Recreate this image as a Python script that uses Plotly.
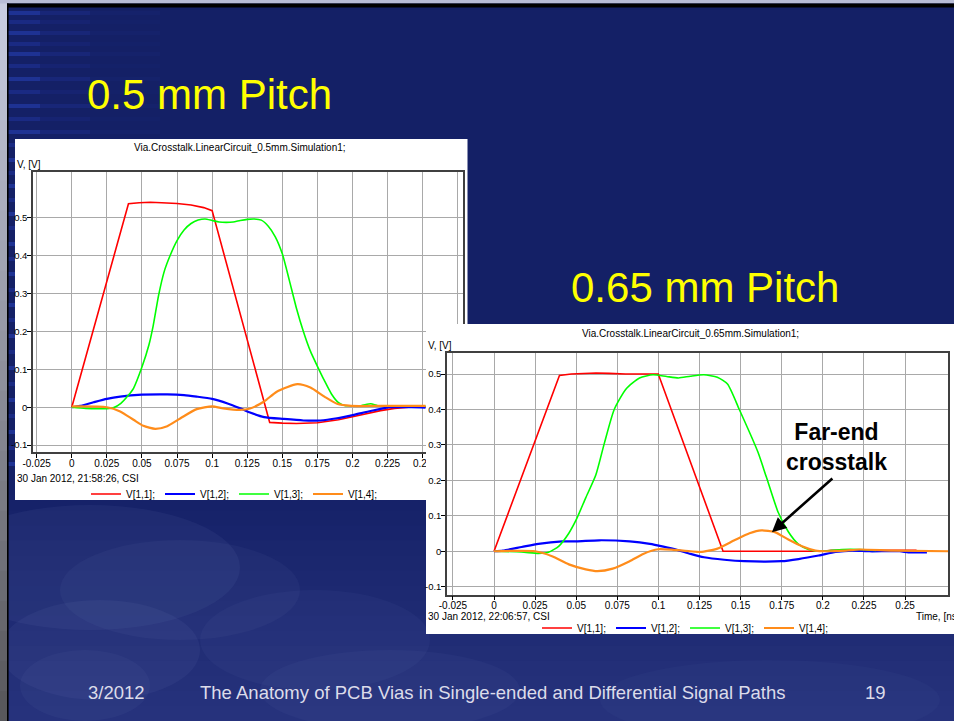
import plotly.graph_objects as go

W, H = 954, 721

# ---------------- 0.5 mm pitch simulation ----------------
P1_V11_T = [0, 0.0404, 0.048, 0.056, 0.064, 0.075, 0.085, 0.094, 0.100, 0.141, 0.150,
            0.160, 0.175, 0.190, 0.200, 0.210, 0.220, 0.230, 0.240, 0.252]
P1_V11 = [0, 0.537, 0.540, 0.541, 0.540, 0.538, 0.534, 0.527, 0.519, -0.040, -0.042,
          -0.043, -0.041, -0.033, -0.025, -0.016, -0.009, -0.003, 0.000, 0.001]

P1_V12_T = [0, 0.006, 0.0155, 0.025, 0.0345, 0.050, 0.068, 0.080, 0.089, 0.100, 0.111,
            0.120, 0.127, 0.137, 0.151, 0.165, 0.177, 0.189, 0.201, 0.213, 0.227, 0.242, 0.252]
P1_V12 = [0, 0.0035, 0.013, 0.022, 0.028, 0.033, 0.034, 0.032, 0.028, 0.022, 0.010,
          -0.003, -0.014, -0.026, -0.031, -0.035, -0.035, -0.029, -0.020, -0.010, 0.000, 0.000, -0.001]

P1_V13_T = [0, 0.010, 0.020, 0.025, 0.030, 0.035, 0.040, 0.044, 0.050, 0.055, 0.058,
            0.062, 0.066, 0.070, 0.075, 0.080, 0.085, 0.090, 0.095, 0.100, 0.105, 0.110,
            0.115, 0.120, 0.125, 0.130, 0.135, 0.140, 0.145, 0.150, 0.155, 0.160, 0.165,
            0.170, 0.175, 0.180, 0.185, 0.190, 0.195, 0.200, 0.206, 0.213, 0.218, 0.230,
            0.240, 0.252]
P1_V13 = [0, -0.003, -0.004, -0.004, -0.001, 0.010, 0.030, 0.050, 0.106, 0.165, 0.215,
          0.298, 0.360, 0.400, 0.440, 0.468, 0.485, 0.494, 0.497, 0.493, 0.489, 0.488,
          0.489, 0.493, 0.496, 0.497, 0.494, 0.478, 0.450, 0.405, 0.335, 0.262, 0.200,
          0.148, 0.108, 0.070, 0.035, 0.012, 0.004, 0.004, 0.004, 0.009, 0.004, 0.004,
          0.004, 0.003]

P1_V14_T = [0, 0.025, 0.0345, 0.044, 0.051, 0.0595, 0.068, 0.0775, 0.089, 0.100, 0.108,
            0.120, 0.127, 0.137, 0.146, 0.1607, 0.170, 0.180, 0.189, 0.199, 0.218, 0.252]
P1_V14 = [0.002, 0.000, -0.011, -0.033, -0.049, -0.057, -0.050, -0.029, -0.005, 0.002, -0.003,
          -0.007, -0.0035, 0.015, 0.041, 0.061, 0.052, 0.028, 0.009, 0.0035, 0.0035, 0.0035]

# ---------------- 0.65 mm pitch simulation ----------------
P2_V11_T = [0, 0.0398, 0.047, 0.062, 0.070, 0.080, 0.0999, 0.1393, 0.200, 0.205, 0.257]
P2_V11 = [0, 0.496, 0.500, 0.503, 0.502, 0.500, 0.500, 0.000, 0.000, 0.003, 0.003]

P2_V12_T = [0, 0.0055, 0.0168, 0.027, 0.0414, 0.050, 0.064, 0.0825, 0.0948, 0.103, 0.1112,
            0.1195, 0.1277, 0.140, 0.1523, 0.1749, 0.1852, 0.1975, 0.2078, 0.218, 0.2283,
            0.2468, 0.252, 0.2633]
P2_V12 = [0, 0.002, 0.012, 0.021, 0.028, 0.028, 0.031, 0.028, 0.021, 0.013, 0.004,
          -0.0075, -0.017, -0.024, -0.028, -0.028, -0.022, -0.012, -0.002, 0.002, 0.000,
          0.000, -0.003, -0.003]

P2_V13_T = [0, 0.0167, 0.027, 0.0331, 0.0393, 0.0455, 0.050, 0.0557, 0.0619, 0.067, 0.0731,
            0.0803, 0.0885, 0.0967, 0.105, 0.1122, 0.1194, 0.1276, 0.1358, 0.142, 0.1492,
            0.1605, 0.1656, 0.1728, 0.179, 0.1851, 0.1913, 0.1974, 0.2118, 0.2221, 0.2324]
P2_V13 = [0, -0.002, -0.006, -0.003, 0.014, 0.051, 0.089, 0.150, 0.215, 0.303, 0.400,
          0.458, 0.489, 0.498, 0.493, 0.489, 0.494, 0.498, 0.491, 0.472, 0.400,
          0.280, 0.210, 0.110, 0.055, 0.020, 0.005, 0.000, 0.005, 0.005, 0.002]

P2_V14_T = [0, 0.025, 0.0353, 0.0455, 0.0558, 0.0629, 0.0722, 0.0825, 0.0907, 0.0999, 0.1092,
            0.1195, 0.1256, 0.1359, 0.1462, 0.1554, 0.1626, 0.1708, 0.179, 0.1873, 0.1955,
            0.2017, 0.214, 0.2222, 0.2428, 0.2763]
P2_V14 = [0, 0.000, -0.014, -0.037, -0.051, -0.056, -0.049, -0.028, -0.0075, 0.0056, 0.004,
          0.000, -0.002, 0.0075, 0.031, 0.051, 0.059, 0.054, 0.033, 0.014, 0.002,
          0.000, 0.002, 0.005, 0.002, 0.000]

SERIES_NAMES = ["V[1,1];", "V[1,2];", "V[1,3];", "V[1,4];"]
SERIES_COLORS = ["#ff0000", "#0000ff", "#00ff00", "#ff8c1a"]
SERIES_WIDTHS = [1.6, 2.2, 1.6, 2.2]
SERIES_SHAPES = ["linear", "spline", "spline", "spline"]

X_TICKS = [-0.025, 0, 0.025, 0.05, 0.075, 0.1, 0.125, 0.15, 0.175, 0.2, 0.225, 0.25, 0.275]
X_TICK_LABELS = ["-0.025", "0", "0.025", "0.05", "0.075", "0.1", "0.125", "0.15",
                 "0.175", "0.2", "0.225", "0.25", "0.275"]
Y_TICKS = [-0.1, 0, 0.1, 0.2, 0.3, 0.4, 0.5]
Y_TICK_LABELS = ["-0.1", "0", "0.1", "0.2", "0.3", "0.4", "0.5"]

SLIDE_TITLE_1 = "0.5 mm Pitch"
SLIDE_TITLE_2 = "0.65 mm Pitch"
PANEL_TITLE_1 = "Via.Crosstalk.LinearCircuit_0.5mm.Simulation1;"
PANEL_TITLE_2 = "Via.Crosstalk.LinearCircuit_0.65mm.Simulation1;"
STAMP_1 = "30 Jan 2012, 21:58:26, CSI"
STAMP_2 = "30 Jan 2012, 22:06:57, CSI"
FOOTER = ["3/2012", "The Anatomy of PCB Vias in Single-ended and Differential Signal Paths", "19"]

NAVY = "#142066"
SIM_FONT = "Liberation Sans Narrow, Arial Narrow, Liberation Sans, Arial, sans-serif"
SLIDE_FONT = "Liberation Sans, Arial, sans-serif"
SIM_SIZE = 10


def px(x):
    return x / W


def py(y):
    return 1 - y / H


shapes = []


def rect(x0, y0, x1, y1, color, opacity=1.0):
    shapes.append(dict(type="rect", xref="paper", yref="paper", layer="below",
                       x0=px(x0), x1=px(x1), y0=py(y1), y1=py(y0),
                       fillcolor=color, opacity=opacity, line=dict(width=0)))


def blob(x0, y0, x1, y1, color, opacity):
    shapes.append(dict(type="circle", xref="paper", yref="paper", layer="below",
                       x0=px(x0), x1=px(x1), y0=py(y1), y1=py(y0),
                       fillcolor=color, opacity=opacity, line=dict(width=0)))


def mix(c0, c1, f):
    return "rgb(%d,%d,%d)" % tuple(round(a + (b - a) * f) for a, b in zip(c0, c1))


# lighter, cloudy lower part of the slide
n = 16
for i in range(n):
    y0 = 480 + i * (241 / n)
    rect(0, y0, W, y0 + 241 / n + 1, mix((20, 32, 102), (38, 50, 124), (i + 1) / n))
for (x0, y0, x1, y1, op) in [(-60, 505, 240, 630, 0.07), (60, 540, 300, 640, 0.06),
                             (0, 600, 200, 700, 0.07), (200, 590, 430, 690, 0.05),
                             (260, 650, 520, 730, 0.05), (600, 660, 940, 740, 0.04),
                             (20, 650, 150, 721, 0.06)]:
    blob(x0, y0, x1, y1, "#8a9ad0", op)

# horizontal light streaks along the left edge
streak_y = [11, 20, 31, 42, 52, 64, 77, 90, 104, 117, 130, 143, 158, 171, 184, 198,
            212, 226, 242, 257, 272, 288, 303, 318, 334, 350, 366, 382, 398, 414, 430, 446, 462]
for k, sy in enumerate(streak_y):
    strength = 0.3 if k % 2 == 0 else 0.18
    rect(8, sy, 40, sy + 4, "#2f4cd0", strength)
    rect(8, sy, 90, sy + 4, "#2f4cd0", strength * 0.45)
    rect(8, sy, 160, sy + 4, "#2f4cd0", strength * 0.18)

# slide frame: grey bar on the left and along the top, black inner edge
n = 24
for i in range(n):
    y0 = i * H / n
    rect(0, y0, 7, y0 + H / n + 1, mix((200, 204, 224), (88, 88, 92), i / (n - 1)))
rect(0, 0, W, 3.5, "#b8bcd6")
rect(7, 3.5, W, 7.5, "#000000")
rect(7, 3.5, 8.6, H, "#000000")

# white window of the 0.5 mm result
rect(15, 139, 467.5, 500, "#ffffff")

fig = go.Figure()


def add_series(ts, vs, i, xa, ya, legend):
    fig.add_trace(go.Scatter(
        x=ts, y=vs, mode="lines", name=SERIES_NAMES[i], xaxis=xa, yaxis=ya, legend=legend,
        line=dict(color=SERIES_COLORS[i], width=SERIES_WIDTHS[i],
                  shape=SERIES_SHAPES[i], smoothing=0.6),
        hoverinfo="x+y+name"))


p1 = [(P1_V11_T, P1_V11), (P1_V12_T, P1_V12), (P1_V13_T, P1_V13), (P1_V14_T, P1_V14)]
p2 = [(P2_V11_T, P2_V11), (P2_V12_T, P2_V12), (P2_V13_T, P2_V13), (P2_V14_T, P2_V14)]
for i, (t, v) in enumerate(p1):
    add_series(t, v, i, "x", "y", "legend")
# empty layer holding the white window of the 0.65 mm result
fig.add_trace(go.Scatter(x=[], y=[], xaxis="x2", yaxis="y2", showlegend=False, hoverinfo="skip"))
for i, (t, v) in enumerate(p2):
    add_series(t, v, i, "x3", "y3", "legend2")

common_x = dict(tickmode="array", ticks="outside", ticklen=4, tickcolor="#000000",
                showgrid=True, gridcolor="#a9a9a9", gridwidth=1, zeroline=False,
                showline=True, linecolor="#404040", linewidth=1.5, mirror=True,
                tickfont=dict(family=SIM_FONT, size=SIM_SIZE, color="#000000"),
                ticklabelstandoff=-3, fixedrange=True, automargin=False)
common_y = dict(common_x, tickvals=Y_TICKS, ticktext=Y_TICK_LABELS, ticklabelstandoff=-2,
                tickfont=dict(family=SIM_FONT, size=9.5, color="#000000"))

annotations = []


def text(s, x, y, size, color, family, xanchor="center", bold=False):
    annotations.append(dict(text=("<b>%s</b>" % s) if bold else s, x=px(x), y=py(y),
                            xref="paper", yref="paper", showarrow=False,
                            xanchor=xanchor, yanchor="middle",
                            font=dict(size=size, color=color, family=family)))


text(SLIDE_TITLE_1, 85, 95, 42, "#ffff00", SLIDE_FONT, "left")
text(SLIDE_TITLE_2, 569, 287, 42, "#ffff00", SLIDE_FONT, "left")
text(PANEL_TITLE_1, 240, 147, SIM_SIZE, "#000000", SIM_FONT)
text("V, [V]", 15, 164, SIM_SIZE, "#000000", SIM_FONT, "left")
text(STAMP_1, 15, 478, SIM_SIZE, "#000000", SIM_FONT, "left")
text(PANEL_TITLE_2, 690, 333, SIM_SIZE, "#000000", SIM_FONT)
text("V, [V]", 426, 345, SIM_SIZE, "#000000", SIM_FONT, "left")
text(STAMP_2, 426, 616, SIM_SIZE, "#000000", SIM_FONT, "left")
text("Time, [ns]", 914, 616, SIM_SIZE, "#000000", SIM_FONT, "left")
text("Far-end<br>crosstalk", 836, 447, 23, "#000000", SLIDE_FONT, bold=True)
text(FOOTER[0], 86, 692, 18.5, "#dcdcea", SLIDE_FONT, "left")
text(FOOTER[1], 198, 692, 18.5, "#dcdcea", SLIDE_FONT, "left")
text(FOOTER[2], 863, 692, 18.5, "#dcdcea", SLIDE_FONT, "left")

# arrow pointing at the far-end crosstalk bump
annotations.append(dict(text="", x=0.169, y=0.054, xref="x3", yref="y3",
                        showarrow=True, ax=62, ay=-55, axref="pixel", ayref="pixel",
                        arrowhead=2, arrowsize=1.1, arrowwidth=2.6, arrowcolor="#000000",
                        standoff=0, startstandoff=0))

legend_style = dict(orientation="h", xanchor="left", yanchor="middle",
                    bgcolor="rgba(0,0,0,0)", borderwidth=0, itemwidth=30,
                    entrywidthmode="pixels", entrywidth=29, tracegroupgap=0,
                    font=dict(family=SIM_FONT, size=SIM_SIZE, color="#000000"))

fig.update_layout(
    width=W, height=H, margin=dict(l=0, r=0, t=0, b=0, autoexpand=False),
    paper_bgcolor=NAVY, plot_bgcolor="#ffffff",
    shapes=shapes, annotations=annotations, hovermode="closest",
    xaxis=dict(common_x, domain=[px(33), px(463)], range=[-0.0276, 0.2787],
               tickvals=X_TICKS, ticktext=X_TICK_LABELS, anchor="y"),
    yaxis=dict(common_y, domain=[py(452.3), py(172)], range=[-0.119, 0.621], anchor="x"),
    xaxis2=dict(visible=False, domain=[px(426), 1.0], range=[0, 1], anchor="y2",
                fixedrange=True, automargin=False),
    yaxis2=dict(visible=False, domain=[py(634), py(324)], range=[0, 1], anchor="x2",
                fixedrange=True, automargin=False),
    xaxis3=dict(common_x, domain=[px(447), px(948.3)], range=[-0.0286, 0.2763],
                tickvals=X_TICKS[:-1], ticktext=X_TICK_LABELS[:-1], anchor="y3"),
    yaxis3=dict(common_y, domain=[py(594.5), py(352.8)], range=[-0.122, 0.56], anchor="x3"),
    legend=dict(legend_style, x=px(86), y=py(494)),
    legend2=dict(legend_style, x=px(537), y=py(628)),
)

fig.write_html("out.html")
